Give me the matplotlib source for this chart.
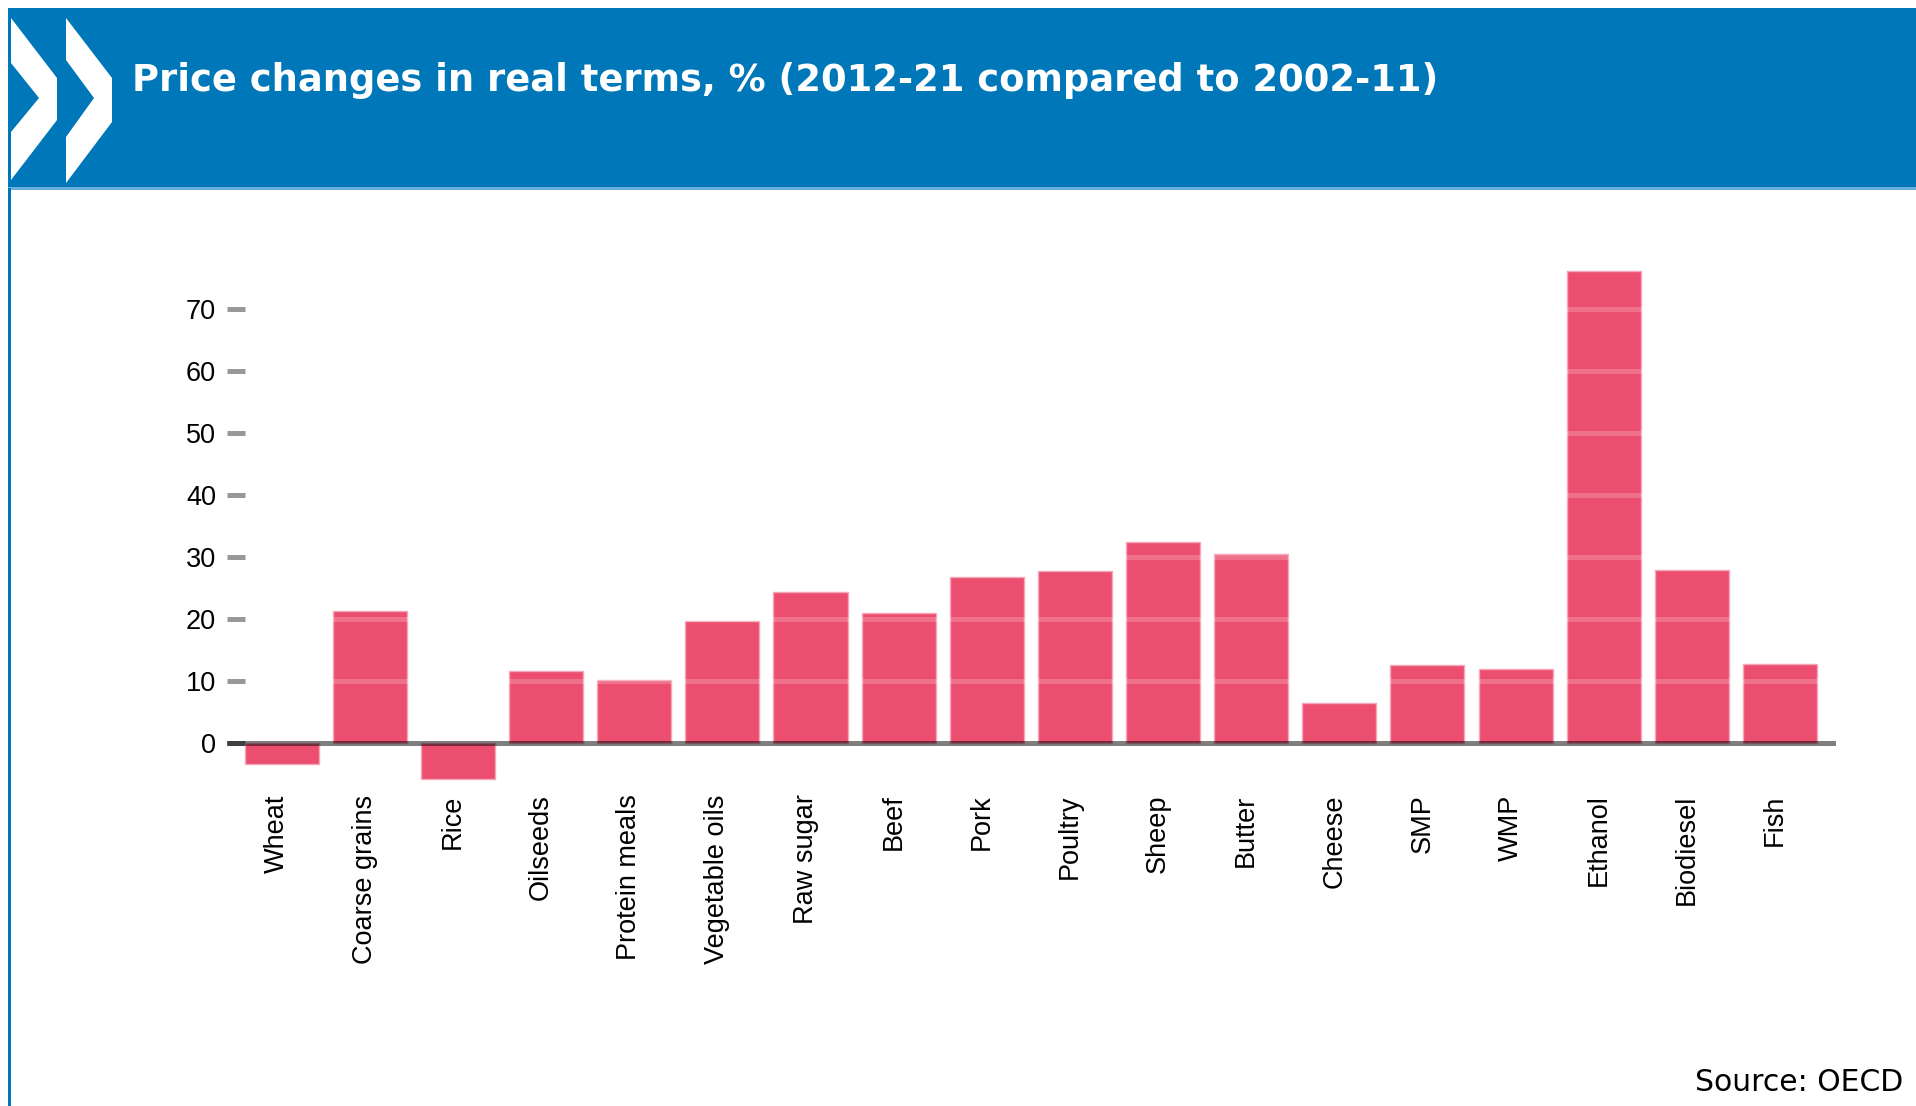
import matplotlib
matplotlib.use("Agg")
import matplotlib.pyplot as plt
from matplotlib.patches import Polygon, Rectangle
from matplotlib.transforms import ScaledTranslation

plt.rcParams['font.family'] = ['Liberation Sans', 'DejaVu Sans']

categories = ["Wheat", "Coarse grains", "Rice", "Oilseeds", "Protein meals",
              "Vegetable oils", "Raw sugar", "Beef", "Pork", "Poultry", "Sheep",
              "Butter", "Cheese", "SMP", "WMP", "Ethanol", "Biodiesel", "Fish"]
values = [-3.4, 21.3, -5.9, 11.6, 10.2, 19.6, 24.3, 21.0, 26.7, 27.7, 32.4,
          30.5, 6.5, 12.5, 11.9, 76.1, 27.9, 12.7]
yticks = [0, 10, 20, 30, 40, 50, 60, 70]
title = "Price changes in real terms, % (2012-21 compared to 2002-11)"
source = "Source: OECD"

W, H = 1916, 1106
fig = plt.figure(figsize=(W / 100, H / 100), dpi=100)
fig.patch.set_facecolor("white")

# decoration layer in pixel coordinates
deco = fig.add_axes([0, 0, 1, 1], zorder=0)
deco.set_xlim(0, W)
deco.set_ylim(H, 0)
deco.axis("off")
blue = "#0077B8"
deco.add_patch(Rectangle((8, 8), W - 8, 180, facecolor=blue, edgecolor="none"))
deco.add_patch(Rectangle((8, 187), W - 8, 3, facecolor="#6AB0DC", edgecolor="none"))
deco.add_patch(Rectangle((8, 188), 3, H - 188, facecolor=blue, edgecolor="none"))
chev1 = [(11, 18), (57, 78), (57, 120), (11, 180), (11, 132), (39, 98), (11, 63)]
chev2 = [(66, 18), (112, 78), (112, 122), (66, 183), (66, 137), (94, 98), (66, 60)]
for c in (chev1, chev2):
    deco.add_patch(Polygon(c, closed=True, facecolor="white", edgecolor="none"))
deco.text(132, 91, title, color="white", fontsize=26.6, fontweight="bold",
          family="DejaVu Sans", ha="left", va="baseline")
deco.text(1903, 1091, source, color="black", fontsize=21.5,
          family="DejaVu Sans", ha="right", va="baseline")

# chart
ax = fig.add_axes([227 / W, 1 - 792.4 / H, (1836 - 227) / W, (792.4 - 246.8) / H],
                  zorder=1)
ax.patch.set_alpha(0)
x = list(range(len(categories)))
ax.bar(x, values, width=0.84, color="#EC4E70", edgecolor="#F5A6B8",
       linewidth=1.0, zorder=2)
for t in yticks[1:]:
    ax.axhline(t, color="white", alpha=0.2, linewidth=3.6, zorder=3)
ax.axhline(0, color="black", alpha=0.5, linewidth=3.6, zorder=4)
ax.set_xlim(-0.621, len(categories) - 1 + 0.636)
ax.set_ylim(-8, 80)
for s in ax.spines.values():
    s.set_visible(False)
ax.set_yticks(yticks)
ax.set_yticklabels([str(v) for v in yticks])
ax.tick_params(axis="y", direction="in", length=13, width=3.6,
               color=(0, 0, 0, 0.5), labelsize=19.5, pad=8)
ax.set_xticks(x)
ax.set_xticklabels(categories, rotation=90, ha="center", va="top")
ax.tick_params(axis="x", length=0, labelsize=19.5, pad=1.5)
off = ScaledTranslation(-5 / 100, 0, fig.dpi_scale_trans)
for lbl in ax.get_xticklabels():
    lbl.set_transform(lbl.get_transform() + off)

fig.savefig("out.png", dpi=100, facecolor="white")
